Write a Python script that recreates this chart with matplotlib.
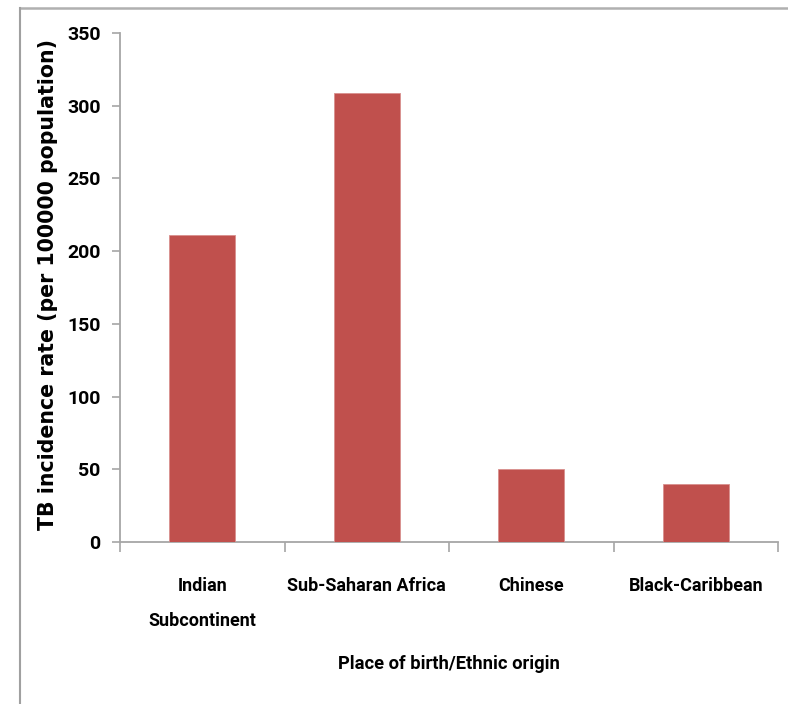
import matplotlib
matplotlib.use("Agg")
import matplotlib.pyplot as plt
from matplotlib.lines import Line2D
import numpy as np

# --- data ---
categories = ["Indian\nSubcontinent", "Sub-Saharan Africa", "Chinese", "Black-Caribbean"]
incidence = [211, 309, 50, 40]
y_ticks = [0, 50, 100, 150, 200, 250, 300, 350]

BAR_COLOR = "#C0504D"
AXIS_COLOR = "#A6A6A6"
LABEL_FONT = ["Roboto", "DejaVu Sans"]

W, H = 788, 704
fig = plt.figure(figsize=(W / 100, H / 100), dpi=100)

# axes placed in pixel terms
left, right, top, bottom = 120, 778, 33, 542
ax = fig.add_axes([left / W, (H - bottom) / H, (right - left) / W, (bottom - top) / H])

x = np.arange(len(categories))
ax.bar(x, incidence, width=0.4, color=BAR_COLOR, edgecolor="#D8908E", linewidth=0.6, zorder=3)

ax.set_xlim(-0.5, len(categories) - 0.5)
ax.set_ylim(0, 350)
ax.set_yticks(y_ticks)
ax.set_yticklabels([str(v) for v in y_ticks], family=LABEL_FONT, fontweight="bold", fontsize=14)

# category labels centred under bars, tick marks at category boundaries
ax.set_xticks(x)
ax.set_xticklabels(categories, family=LABEL_FONT, fontweight="bold", fontsize=13, linespacing=2.2)
ax.tick_params(axis="x", which="major", length=0, pad=25)
ax.set_xticks(np.arange(-0.5, len(categories)), minor=True)
ax.tick_params(axis="x", which="minor", length=7, width=1.2, color=AXIS_COLOR, direction="out")
ax.tick_params(axis="y", length=6, width=1.2, color=AXIS_COLOR, direction="out", pad=8)

for side in ["top", "right"]:
    ax.spines[side].set_visible(False)
for side in ["left", "bottom"]:
    ax.spines[side].set_color(AXIS_COLOR)
    ax.spines[side].set_linewidth(1.3)

ax.set_ylabel("TB incidence rate (per 100000 population)", fontweight="bold", fontsize=14.8)
ax.yaxis.set_label_coords(-0.094, 0.505)
ax.set_xlabel("Place of birth/Ethnic origin", family=LABEL_FONT, fontweight="bold", fontsize=13.2)
ax.xaxis.set_label_coords(0.5, -0.222)

# outer chart frame (top and left edges)
fig.add_artist(Line2D([20 / W, 1], [1 - 7.5 / H, 1 - 7.5 / H], color="#B0B0B0", linewidth=1.8))
fig.add_artist(Line2D([20 / W, 20 / W], [0, 1 - 7.5 / H], color="#A0A0A0", linewidth=1.5))

fig.savefig("out.png", dpi=100)
